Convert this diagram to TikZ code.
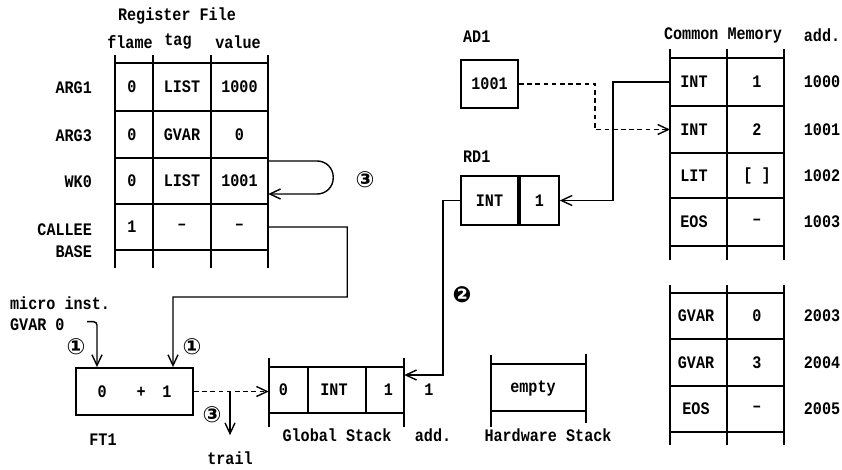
\documentclass[tikz,border=0pt]{standalone}
\usepackage{fontspec}
\setmainfont[FakeStretch=0.86]{Liberation Mono}
\newfontfamily\circfont{DejaVu Sans}
\usetikzlibrary{arrows.meta,positioning}

\begin{document}
\begin{tikzpicture}[
    x=0.03cm, y=-0.03cm,
    font=\bfseries\fontsize{15}{17}\selectfont,
    grid/.style={line width=1.6pt},
    cell/.style={inner sep=0pt,minimum height=1.4cm},
    boxcell/.style={cell,draw,line width=1.6pt},
    link/.style={line width=1.2pt,-{Straight Barb[length=3.2mm,width=3mm]}},
    dlink/.style={link,dash pattern=on 4pt off 3pt},
    circnum/.style={font=\circfont\bfseries\fontsize{19}{19}\selectfont}
  ]
  \useasboundingbox (0,0) rectangle (842,469);

  % register file
  \node (rftitle) at (177,16) {Register File};
  \node (hflame) at (130,42) {flame};
  \node (htag) at (178,42) {tag};
  \node (hvalue) at (238,42) {value};
  \foreach \x in {115,153,211,268}
    \draw[grid] (\x,55) -- (\x,268);
  \foreach \y in {63,111,158,204,250}
    \draw[grid] (115,\y) -- (268,\y);
  \foreach \y/\n/\f/\t/\v in {87/a1/0/LIST/1000,134.5/a3/0/GVAR/0,181/wk/0/LIST/1001,227/cb/1/--/--} {
    \node[cell,minimum width=1.14cm] (\n f) at (132,\y) {\f};
    \node[cell,minimum width=1.74cm] (\n t) at (182,\y) {\t};
    \node[cell,minimum width=1.71cm] (\n v) at (239.5,\y) {\v};
  }
  \node[anchor=east] (larg1) at (96,88) {ARG1};
  \node[anchor=east] (larg3) at (96,136) {ARG3};
  \node[anchor=east] (lwk) at (96,182) {WK0};
  \node[anchor=east,align=right] (lcb) at (96,241) {CALLEE\\[2pt]BASE};

  % loop on WK0
  \draw[link,rounded corners=0.48cm] ([yshift=0.6cm]wkv.east) -- ++(65,0) -- ++(0,33) -- ([yshift=-0.39cm]wkv.east);
  \node[circnum] (c3a) at (365,180) {③};

  % FT1
  \node[boxcell,minimum width=3.51cm,minimum height=1.41cm] (ft1) at (134.5,391.5)
    {0\hspace{0.9cm}+\hspace{0.5cm}1};
  \node (lft1) at (103,440) {FT1};
  \node[anchor=west] (micro) at (6,303) {micro inst.};
  \node[anchor=west] (gvar) at (6,325) {GVAR 0};
  \draw[link,rounded corners=3pt] ([xshift=0.55cm,yshift=0.1cm]gvar.east) -| ([xshift=-1.125cm]ft1.north);
  \draw[link] (cbv.east) -- ++(79,0) |- (173,297) -- ([xshift=1.155cm]ft1.north);
  \node[circnum] (c1a) at (76,347) {①};
  \node[circnum] (c1b) at (192,347) {①};

  % global stack
  \draw[grid] (269,358) -- (269,427);
  \draw[grid] (404,358) -- (404,427);
  \draw[grid] (269,367) -- (404,367);
  \draw[grid] (269,413) -- (404,413);
  \draw[grid] (308,367) -- (308,413);
  \draw[grid] (366,367) -- (366,413);
  \node[cell,minimum width=1.17cm] (gs0) at (288.5,390) {\hspace{-0.3cm}0};
  \node[cell,minimum width=1.74cm] (gsint) at (334,390) {INT};
  \node[cell,minimum width=1.14cm] (gs1) at (385,390) {\hspace{0.2cm}1};
  \node (gsa) at (429,390) {1};
  \node (lgs) at (337,435) {Global Stack};
  \node (lgsadd) at (433,435) {add.};
  \draw[dlink] (ft1.east) -- (ft1.east -| gs0.west);
  \coordinate (split) at (230,391.5);
  \node[inner sep=1pt] (trail) at (230,458) {trail};
  \draw[link] (split) -- ([yshift=0.45cm]trail.north);
  \node[circnum] (c3b) at (212,415) {③};

  % AD1 and RD1
  \node[anchor=west] (lad1) at (459,37) {AD1};
  \node[boxcell,minimum width=1.71cm,minimum height=1.44cm] (ad1) at (489.5,84) {1001};
  \node[anchor=west] (lrd1) at (459,157) {RD1};
  \node[boxcell,minimum width=1.71cm,minimum height=1.47cm] (rdtag) at (489.5,200.5) {INT};
  \node[boxcell,minimum width=1.17cm,minimum height=1.47cm,right=0pt of rdtag] (rdval) {1};
  \draw[link] (rdtag.west) -- ++(-17,0) |- ([yshift=0.45cm]gs1.east);
  \node[circnum] (c2) at (462,295) {❷};

  % hardware stack
  \draw[grid] (491,355) -- (491,427);
  \draw[grid] (586,354) -- (586,423);
  \draw[grid] (491,364) -- (586,364);
  \draw[grid] (491,411) -- (586,411);
  \node (hw) at (533,388) {empty};
  \node (lhw) at (548,435) {Hardware Stack};

  % common memory
  \node (lcm) at (723,35) {Common Memory};
  \node (lcmadd) at (822,35) {add.};
  \foreach \x in {670,727,784}
    \draw[grid] (\x,49) -- (\x,260);
  \foreach \y in {58,106,153,198,246}
    \draw[grid] (670,\y) -- (784,\y);
  \foreach \y/\n/\t/\v/\a in {82/m1/INT/1/1000,129.5/m2/INT/2/1001,175.5/m3/LIT/{[ ]}/1002,222/m4/EOS/--/1003} {
    \node[cell,minimum width=1.71cm] (\n t) at (694,\y) {\t};
    \node[cell,minimum width=1.71cm] (\n v) at (757,\y) {\v};
    \node (\n a) at (822,\y) {\a};
  }
  \foreach \x in {670,727,784}
    \draw[grid] (\x,285) -- (\x,445);
  \foreach \y in {293,339,386,432}
    \draw[grid] (670,\y) -- (784,\y);
  \foreach \y/\n/\t/\v/\a in {316/g1/GVAR/0/2003,362.5/g2/GVAR/3/2004,409/g3/EOS/--/2005} {
    \node[cell,minimum width=1.71cm] (\n t) at (696,\y) {\t};
    \node[cell,minimum width=1.71cm] (\n v) at (757,\y) {\v};
    \node (\n a) at (822,\y) {\a};
  }

  \draw[dlink] (ad1.east) -- ++(76,0) |- (m2t.west -| 670,0);
  \draw[link] (m1t.west -| 670,0) -- ++(-57,0) |- (rdval.east);
\end{tikzpicture}
\end{document}
